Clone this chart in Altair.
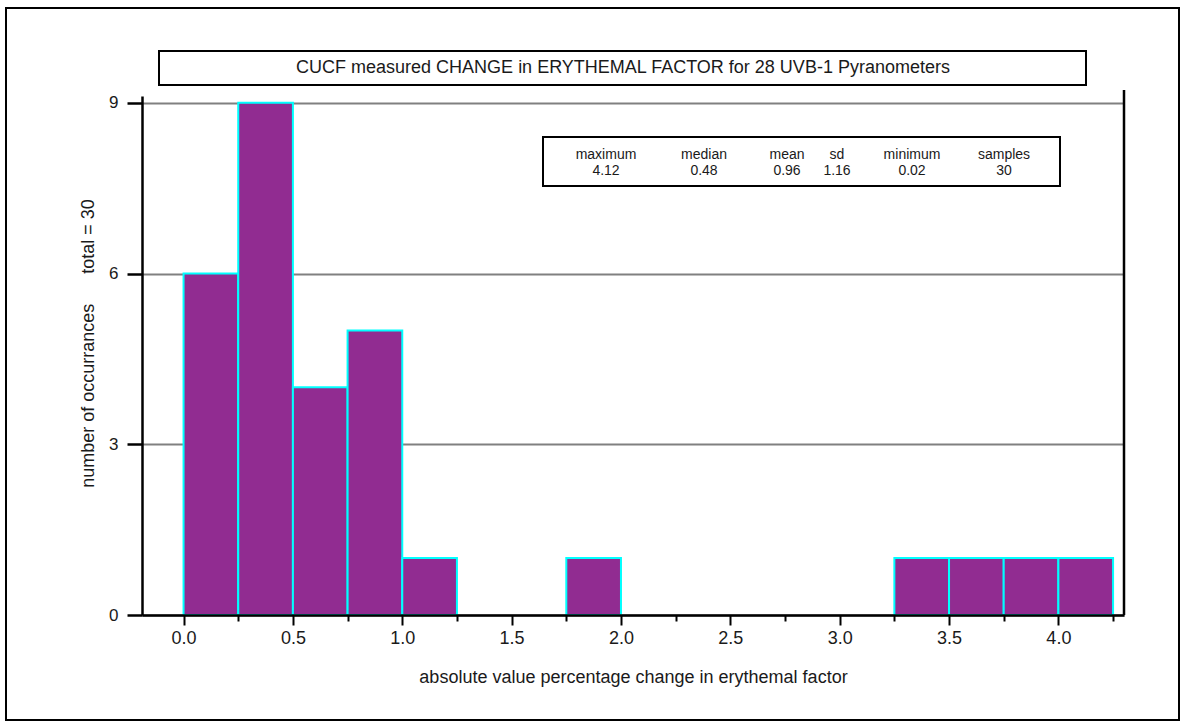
import altair as alt
import pandas as pd

# Histogram bins (left edges) and occurrence counts
bin_start = [0.0, 0.25, 0.5, 0.75, 1.0, 1.75, 3.25, 3.5, 3.75, 4.0]
counts = [6, 9, 4, 5, 1, 1, 1, 1, 1, 1]
bin_width = 0.25

# Axis ticks
x_ticks = [0.0, 0.25, 0.5, 0.75, 1.0, 1.25, 1.5, 1.75, 2.0, 2.25, 2.5,
           2.75, 3.0, 3.25, 3.5, 3.75, 4.0, 4.25]
y_ticks = [0, 3, 6, 9]

# Summary statistics shown in the inset box
stat_names = ["maximum", "median", "mean", "sd", "minimum", "samples"]
stat_values = ["4.12", "0.48", "0.96", "1.16", "0.02", "30"]

title_text = "CUCF measured CHANGE in ERYTHEMAL FACTOR for 28 UVB-1 Pyranometers"
x_title = "absolute value percentage change in erythemal factor"
y_title = "number of occurrances" + "\u00a0" * 6 + "total = 30"

# Layout (pixels)
W, H = 982, 519
PAD_L, PAD_T = 142, 96
FONT = "Liberation Sans"
INK = "#1a1a1a"
stat_cols = [464, 562, 645, 695, 770, 862]

df = pd.DataFrame({"start": bin_start, "count": counts})
one = pd.DataFrame({"k": [0]})

half_step = "abs(datum.value * 2 - round(datum.value * 2)) < 0.000001"

bars = alt.Chart(df).transform_calculate(
    end=f"datum.start + {bin_width}", base="0"
).mark_bar(
    fill="#912c91", stroke="#00ffff", strokeWidth=2
).encode(
    x=alt.X(
        "start:Q",
        scale=alt.Scale(domain=[-0.19, 4.30], nice=False, zero=False),
        axis=alt.Axis(
            values=x_ticks,
            labelExpr=f"{half_step} ? format(datum.value, '.1f') : ''",
            tickSize={"condition": {"test": half_step, "value": 10}, "value": 6},
            tickWidth=2,
            tickColor="black",
            domainColor="black",
            domainWidth=2.5,
            grid=False,
            labelFont=FONT,
            labelFontSize=18,
            labelColor=INK,
            labelPadding=4,
            labelFlush=False,
            title=x_title,
            titleFont=FONT,
            titleFontSize=18,
            titleFontWeight="normal",
            titleColor=INK,
            titleBaseline="alphabetic",
            titleY=67,
            zindex=1,
        ),
    ),
    x2="end:Q",
    y=alt.Y(
        "count:Q",
        scale=alt.Scale(domain=[0, 9.12], nice=False),
        axis=alt.Axis(
            values=y_ticks,
            tickSize=15,
            tickWidth=2.5,
            tickColor="black",
            domainColor="black",
            domainWidth=2.5,
            grid=True,
            gridColor="#808080",
            gridWidth=2,
            labelFont=FONT,
            labelFontSize=17,
            labelColor=INK,
            labelPadding=9,
            labelFlush=False,
            title=y_title,
            titleFont=FONT,
            titleFontSize=18,
            titleFontWeight="normal",
            titleColor=INK,
            titleAngle=270,
            titleAlign="center",
            titleBaseline="middle",
            titleX=-54,
            titleY=247,
        ),
    ),
    y2="base:Q",
)

# Right-hand frame line of the plot
right_line = alt.Chart(one).mark_rule(color="black", strokeWidth=2.5).encode(
    x=alt.value(W), y=alt.value(-6), y2=alt.value(H)
)

# Outer page frame
frame = alt.Chart(one).mark_rect(
    fill="white", fillOpacity=0, stroke="black", strokeWidth=2
).encode(
    x=alt.value(6 - PAD_L), x2=alt.value(1179 - PAD_L),
    y=alt.value(8 - PAD_T), y2=alt.value(720 - PAD_T),
)

# Boxed title
title_box = alt.Chart(one).mark_rect(
    fill="white", stroke="black", strokeWidth=2
).encode(
    x=alt.value(159 - PAD_L), x2=alt.value(1086 - PAD_L),
    y=alt.value(51 - PAD_T), y2=alt.value(85 - PAD_T),
)
title_mark = alt.Chart(one).mark_text(
    font=FONT, fontSize=18, color=INK, align="center", baseline="middle"
).encode(
    x=alt.value(623 - PAD_L), y=alt.value(68 - PAD_T), text=alt.value(title_text)
)

# Statistics inset
stats_box = alt.Chart(one).mark_rect(
    fill="white", stroke="black", strokeWidth=2
).encode(
    x=alt.value(543 - PAD_L), x2=alt.value(1060 - PAD_L),
    y=alt.value(137 - PAD_T), y2=alt.value(186 - PAD_T),
)
stat_layers = []
for name, val, cx in zip(stat_names, stat_values, stat_cols):
    for txt, cy in ((name, 59), (val, 75)):
        stat_layers.append(
            alt.Chart(one).mark_text(
                font=FONT, fontSize=14, color=INK, align="center", baseline="middle"
            ).encode(x=alt.value(cx), y=alt.value(cy), text=alt.value(txt))
        )

chart = alt.layer(
    frame, title_box, title_mark, bars, right_line, stats_box, *stat_layers
).properties(
    width=W,
    height=H,
    autosize=alt.AutoSizeParams(type="none"),
    padding={"left": PAD_L, "top": PAD_T, "right": 1181 - PAD_L - W, "bottom": 728 - PAD_T - H},
    background="white",
).configure_view(stroke=None)

chart.save("out.html", embed_options={"renderer": "svg", "actions": False})
